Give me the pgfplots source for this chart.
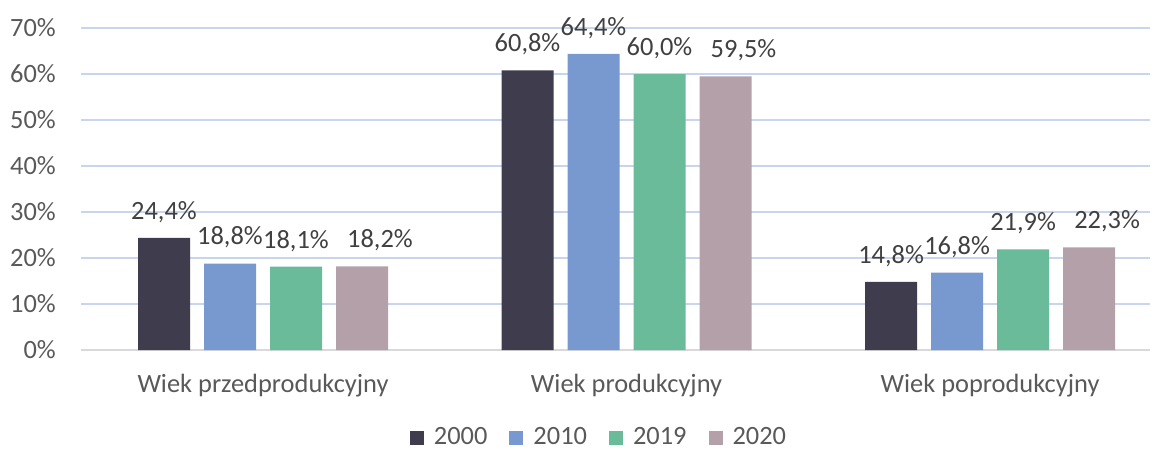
\documentclass[border=0pt]{standalone}
\usepackage{fontspec}
\setmainfont{Carlito}
\usepackage{pgfplots}
\pgfplotsset{compat=1.18}
\definecolor{cA}{HTML}{3F3D4D}
\definecolor{cB}{HTML}{7898D0}
\definecolor{cC}{HTML}{69BB9A}
\definecolor{cD}{HTML}{B3A0A9}
\definecolor{txt}{HTML}{595959}
\definecolor{lbl}{HTML}{404040}
\definecolor{gridc}{HTML}{C9D5EE}
\definecolor{basec}{HTML}{D9D9D9}
\newcommand\fs{\fontsize{13.2}{15}\selectfont}
\begin{document}
\fs
\begin{tikzpicture}
\path[use as bounding box] (-40.5pt,-50pt) rectangle (538pt,175pt);
\begin{axis}[
  scale only axis,
  width=534.5pt, height=161pt,
  ybar=7pt, bar width=26pt,
  xmin=-0.5007, xmax=2.44,
  ymin=0, ymax=70,
  xtick=data,
  xticklabels={Wiek przedprodukcyjny,Wiek produkcyjny,Wiek poprodukcyjny},
  ytick={0,10,...,70},
  yticklabels={0\%,10\%,20\%,30\%,40\%,50\%,60\%,70\%},
  major tick length=0pt,
  ymajorgrids, grid style={gridc, line width=0.75pt},
  axis x line*=bottom, axis y line*=left,
  x axis line style={basec, line width=1pt, -},
  y axis line style={draw=none},
  tick label style={txt, font=\fs},
  xticklabel style={yshift=-7.5pt},
  yticklabel style={xshift=-8pt},
  point meta=explicit symbolic,
  nodes near coords,
  every node near coord/.append style={lbl, font=\fs, yshift=3pt},
  legend columns=4,
  legend style={draw=none, at={(0.4855,-0.272)}, anchor=center,
    font=\fs, text=txt,
    /tikz/every odd column/.append style={column sep=3pt},
    /tikz/every even column/.append style={column sep=9pt}},
  legend image code/.code={\fill[#1] (0pt,-3.5pt) rectangle (7pt,3.5pt);},
]
\addplot[fill=cA, draw=none] coordinates {(0,24.4) [24,4\%] (1,60.8) [60,8\%] (2,14.8) [14,8\%]};
\addplot[fill=cB, draw=none] coordinates {(0,18.8) [18,8\%] (1,64.4) [64,4\%] (2,16.8) [16,8\%]};
\addplot[fill=cC, draw=none] coordinates {(0,18.1) [18,1\%] (1,60.0) [60,0\%] (2,21.9) [21,9\%]};
\addplot[fill=cD, draw=none, every node near coord/.append style={xshift=9pt}]
  coordinates {(0,18.2) [18,2\%] (1,59.5) [59,5\%] (2,22.3) [22,3\%]};
\legend{2000,2010,2019,2020}
\end{axis}
\end{tikzpicture}
\end{document}
